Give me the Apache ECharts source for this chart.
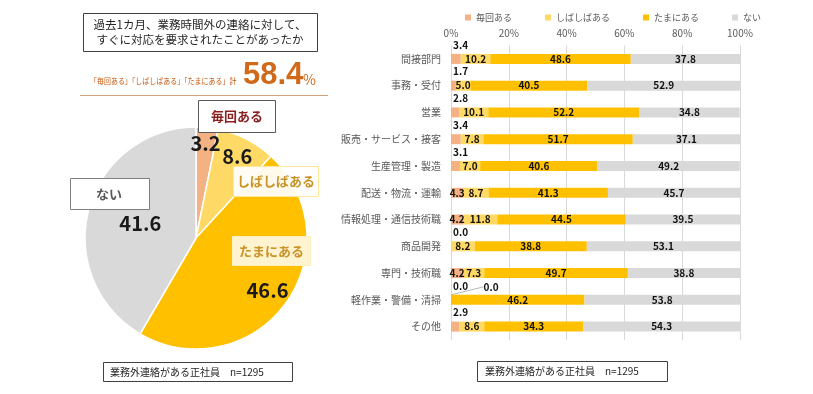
<!DOCTYPE html>
<html><head><meta charset="utf-8">
<script src="https://cdn.jsdelivr.net/npm/echarts@6/dist/echarts.min.js"></script>
<style>html,body{margin:0;padding:0;background:#fff}#c{width:813px;height:394px}</style>
</head><body><div id="c"></div>
<script>
// ---- data ----
const seriesNames = ['毎回ある', 'しばしばある', 'たまにある', 'ない'];
const categories = ['間接部門', '事務・受付', '営業', '販売・サービス・接客', '生産管理・製造', '配送・物流・運輸', '情報処理・通信技術職', '商品開発', '専門・技術職', '軽作業・警備・清掃', 'その他'];
const everyTime = [3.4, 1.7, 2.8, 3.4, 3.1, 4.3, 4.2, 0.0, 4.2, 0.0, 2.9];
const often     = [10.2, 5.0, 10.1, 7.8, 7.0, 8.7, 11.8, 8.2, 7.3, 0.0, 8.6];
const sometimes = [48.6, 40.5, 52.2, 51.7, 40.6, 41.3, 44.5, 38.8, 49.7, 46.2, 34.3];
const never     = [37.8, 52.9, 34.8, 37.1, 49.2, 45.7, 39.5, 53.1, 38.8, 53.8, 54.3];
const pieValues = [3.2, 8.6, 46.6, 41.6];
const axisMin = 0, axisMax = 100, axisStep = 20;
const titleLines = ['過去1カ月、業務時間外の連絡に対して、', 'すぐに対応を要求されたことがあったか'];
const sumLabel = '「毎回ある」「しばしばある」「たまにある」計';
const noteText = '業務外連絡がある正社員　n=1295';

// ---- styles ----
const colors = ['#F4B183', '#FFD966', '#FFC000', '#D9D9D9'];
const FONT = '"Noto Sans CJK JP", "Noto Sans", sans-serif';
const PIE_C = [196, 238], PIE_R = 111;
const pieLabelFactor = [0.86, 0.82, 0.80, 0.52];

const pieTotal = pieValues.reduce((a, b) => a + b, 0);
let cum = 0;
const pieMid = pieValues.map(v => { const m = cum + v / 2; cum += v; return m / pieTotal * 2 * Math.PI; });
const yesTotal = (pieValues[0] + pieValues[1] + pieValues[2]).toFixed(1);

const barLabelBase = { show: true, fontSize: 10, fontWeight: 'bold', color: '#111', fontFamily: FONT,
  formatter: p => Number(p.value).toFixed(1) };

function barSeries(idx, values, itemBuilder, extra) {
  return Object.assign({
    name: seriesNames[idx], type: 'bar', stack: 'all', barWidth: 10,
    itemStyle: { color: colors[idx] },
    label: Object.assign({}, barLabelBase, { position: 'inside' }),
    emphasis: { disabled: true },
    data: values.map(itemBuilder || (v => v))
  }, extra || {});
}

const chart = echarts.init(document.getElementById('c'), null, { renderer: 'canvas' });
chart.setOption({
  animation: false,
  textStyle: { fontFamily: FONT },
  legend: {
    data: seriesNames, left: 460, top: 8, icon: 'rect', itemWidth: 6, itemHeight: 6, itemGap: 33,
    textStyle: { fontSize: 9, color: '#595959', fontFamily: FONT }
  },
  grid: { left: 451, right: 73, top: 45.5, height: 294.5 },
  xAxis: {
    type: 'value', position: 'top', min: axisMin, max: axisMax, interval: axisStep,
    axisLabel: { formatter: '{value}%', fontSize: 10, color: '#595959', margin: 7, fontFamily: FONT },
    axisLine: { show: false }, axisTick: { show: false },
    splitLine: { lineStyle: { color: '#D9D9D9', width: 1 } }
  },
  yAxis: {
    type: 'category', data: categories, inverse: true,
    axisLine: { show: false }, axisTick: { show: false },
    axisLabel: { fontSize: 10, color: '#595959', margin: 10, fontFamily: FONT }
  },
  series: [
    barSeries(0, everyTime, v => ({ value: v, label: v < 4 ? { position: [2, -14] } : { position: 'inside' } })),
    barSeries(1, often, v => v, {
      labelLine: { show: true, smooth: 0.3, lineStyle: { color: '#A6A6A6', width: 0.8 } },
      labelLayout: p => (often[p.dataIndex] === 0 ? { dx: 40, dy: -13 } : null)
    }),
    barSeries(2, sometimes),
    barSeries(3, never),
    {
      type: 'pie', center: PIE_C, radius: [0, PIE_R], startAngle: 90, clockwise: true,
      silent: true, legendHoverLink: false,
      itemStyle: { borderColor: '#fff', borderWidth: 1.5 },
      label: { show: true, position: 'inside', fontSize: 20, fontWeight: 'bold', color: '#1a1a1a',
        fontFamily: FONT, formatter: p => Number(p.value).toFixed(1) },
      labelLine: { show: false },
      labelLayout: p => {
        const a = pieMid[p.dataIndex], rr = PIE_R * pieLabelFactor[p.dataIndex];
        return { x: PIE_C[0] + rr * Math.sin(a), y: PIE_C[1] - rr * Math.cos(a), align: 'center', verticalAlign: 'middle' };
      },
      data: pieValues.map((v, i) => ({ value: v, name: seriesNames[i], itemStyle: { color: colors[i] } }))
    }
  ],
  graphic: [
    // title box
    { type: 'rect', shape: { x: 83.5, y: 13.5, width: 234, height: 38 }, style: { fill: '#fff', stroke: '#404040', lineWidth: 1 } },
    { type: 'text', x: 200, y: 25, style: { text: titleLines[0], fontSize: 11.5, fill: '#262626', align: 'center', verticalAlign: 'middle', fontFamily: FONT } },
    { type: 'text', x: 200, y: 40, style: { text: titleLines[1], fontSize: 11.5, fill: '#262626', align: 'center', verticalAlign: 'middle', fontFamily: FONT } },
    // total
    { type: 'text', x: 90, y: 81, scaleX: 0.82, originX: 0, originY: 0, style: { text: sumLabel, fontSize: 8.5, fill: '#C65911', align: 'left', verticalAlign: 'middle', fontFamily: FONT } },
    { type: 'text', x: 243, y: 75, style: { text: yesTotal, fontSize: 31, fontWeight: 'bold', fill: '#D0691A', align: 'left', verticalAlign: 'middle', fontFamily: 'Arial, "Liberation Sans", sans-serif' } },
    { type: 'text', x: 303, y: 80, style: { text: '%', fontSize: 14, fill: '#D0691A', align: 'left', verticalAlign: 'middle', fontFamily: FONT } },
    { type: 'line', shape: { x1: 80, y1: 95.5, x2: 328, y2: 95.5 }, style: { stroke: '#D2A27C', lineWidth: 1.2 } },
    // pie name boxes
    { type: 'rect', z: 10, shape: { x: 198.5, y: 100.5, width: 77, height: 32 }, style: { fill: '#fff', stroke: '#595959', lineWidth: 1 } },
    { type: 'text', z: 11, x: 237, y: 116.5, style: { text: seriesNames[0], fontSize: 13, fontWeight: 'bold', fill: '#8B1E1E', align: 'center', verticalAlign: 'middle', fontFamily: FONT } },
    { type: 'rect', z: 10, shape: { x: 233.5, y: 166.5, width: 85, height: 30 }, style: { fill: 'rgba(255,255,255,0.92)', stroke: '#FFE699', lineWidth: 1 } },
    { type: 'text', z: 11, x: 276, y: 181.5, style: { text: seriesNames[1], fontSize: 13, fontWeight: 'bold', fill: '#C99327', align: 'center', verticalAlign: 'middle', fontFamily: FONT } },
    { type: 'rect', z: 10, shape: { x: 232.5, y: 236.5, width: 78, height: 29 }, style: { fill: '#FFF3D0', stroke: '#FFF0C4', lineWidth: 1 } },
    { type: 'text', z: 11, x: 271.5, y: 251, style: { text: seriesNames[2], fontSize: 13, fontWeight: 'bold', fill: '#C99327', align: 'center', verticalAlign: 'middle', fontFamily: FONT } },
    { type: 'rect', z: 10, shape: { x: 70.5, y: 178.5, width: 79, height: 31 }, style: { fill: '#fff', stroke: '#7F7F7F', lineWidth: 1 } },
    { type: 'text', z: 11, x: 109, y: 194, style: { text: seriesNames[3], fontSize: 13, fontWeight: 'bold', fill: '#595959', align: 'center', verticalAlign: 'middle', fontFamily: FONT } },
    // notes
    { type: 'rect', shape: { x: 103.5, y: 362.5, width: 189, height: 19 }, style: { fill: '#fff', stroke: '#404040', lineWidth: 1 } },
    { type: 'text', x: 110, y: 372, style: { text: noteText, fontSize: 10, fill: '#262626', align: 'left', verticalAlign: 'middle', fontFamily: FONT } },
    { type: 'rect', shape: { x: 477.5, y: 361.5, width: 190, height: 20 }, style: { fill: '#fff', stroke: '#404040', lineWidth: 1 } },
    { type: 'text', x: 485, y: 371.5, style: { text: noteText, fontSize: 10, fill: '#262626', align: 'left', verticalAlign: 'middle', fontFamily: FONT } }
  ]
});
</script></body></html>
